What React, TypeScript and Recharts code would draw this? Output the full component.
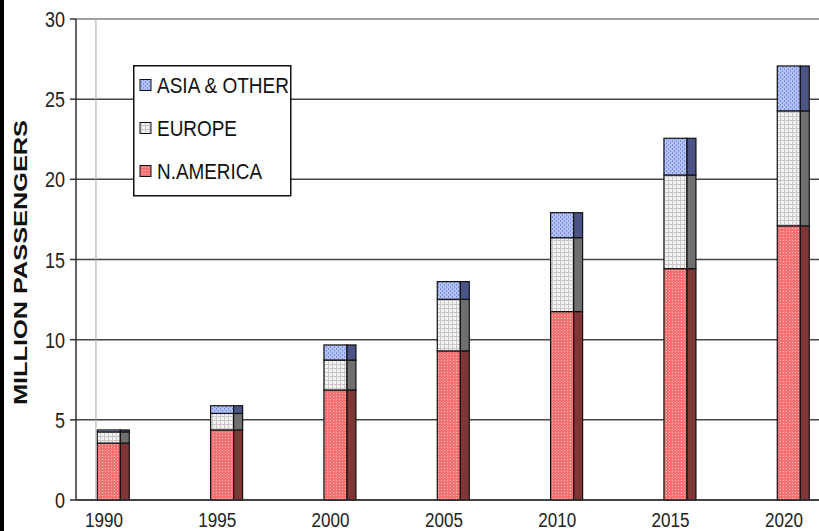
import React from 'react';
import { BarChart, Bar, XAxis, YAxis, CartesianGrid, ReferenceLine, Legend } from 'recharts';

const years = [1990, 1995, 2000, 2005, 2010, 2015, 2020];
const nAmerica = [3.55, 4.37, 6.86, 9.3, 11.75, 14.43, 17.1];
const europe = [0.7, 1.03, 1.87, 3.22, 4.61, 5.84, 7.17];
const asiaOther = [0.12, 0.48, 0.94, 1.1, 1.56, 2.29, 2.8];
const yTicks = [0, 5, 10, 15, 20, 25, 30];

const seriesNames = { na: 'N.AMERICA', eu: 'EUROPE', asia: 'ASIA & OTHER' };

const data = years.map((year, i) => ({
  year,
  na: nAmerica[i],
  eu: europe[i],
  asia: asiaOther[i],
}));

const FONT = '"Liberation Sans", Arial, sans-serif';

const sideColors: Record<string, string> = {
  na: '#7e3636',
  eu: '#6f6f6f',
  asia: '#4a5585',
};
const frontFills: Record<string, string> = {
  na: 'url(#patRed)',
  eu: 'url(#patGrey)',
  asia: 'url(#patBlue)',
};

const makeShape = (key: string) => (props: any) => {
  const { x, y, width, height } = props;
  if (height == null || width == null) return null;
  const front = width * 0.72;
  return (
    <g>
      <rect x={x} y={y} width={front} height={height} fill={frontFills[key]} stroke="#111" strokeWidth={1.2} />
      <rect x={x + front} y={y} width={width - front} height={height} fill={sideColors[key]} stroke="#111" strokeWidth={1.2} />
    </g>
  );
};

const XTick = (props: any) => {
  const { x, y, payload } = props;
  return (
    <text
      x={x - 9}
      y={y + 26.5}
      textAnchor="middle"
      fontFamily={FONT}
      fontSize={20.5}
      fill="#222"
      textLength={38}
      lengthAdjust="spacingAndGlyphs"
    >
      {payload.value}
    </text>
  );
};

const YTick = (props: any) => {
  const { x, y, payload } = props;
  const s = String(payload.value);
  return (
    <text
      x={x}
      y={y + 8}
      textAnchor="end"
      fontFamily={FONT}
      fontSize={22}
      fill="#222"
      textLength={s.length * 10}
      lengthAdjust="spacingAndGlyphs"
    >
      {s}
    </text>
  );
};

const YLabel = (props: any) => {
  const vb = props.viewBox || { x: 0, y: 19, width: 76, height: 481 };
  const cx = vb.x + 20;
  const cy = vb.y + vb.height / 2 + 3;
  return (
    <text
      x={cx}
      y={cy}
      transform={`rotate(-90 ${cx} ${cy})`}
      textAnchor="middle"
      dominantBaseline="central"
      fontFamily={FONT}
      fontWeight="bold"
      fontSize={19}
      fill="#111"
      textLength={285}
      lengthAdjust="spacingAndGlyphs"
    >
      MILLION   PASSENGERS
    </text>
  );
};

const legendRows = [
  { key: 'asia', y: 20, len: 132 },
  { key: 'eu', y: 63, len: 80 },
  { key: 'na', y: 106, len: 105 },
];

const LegendBox = () => (
  <svg width={166} height={132} style={{ display: 'block', overflow: 'visible' }}>
    <rect x={0.75} y={0.75} width={157} height={130} fill="#fff" stroke="#111" strokeWidth={1.5} />
    {legendRows.map((r) => (
      <g key={r.key}>
        <rect x={7} y={r.y - 5.5} width={11} height={11} fill={frontFills[r.key]} stroke="#111" strokeWidth={1} />
        <text
          x={24}
          y={r.y + 8}
          fontFamily={FONT}
          fontSize={22}
          fill="#111"
          textLength={r.len}
          lengthAdjust="spacingAndGlyphs"
        >
          {seriesNames[r.key as keyof typeof seriesNames]}
        </text>
      </g>
    ))}
  </svg>
);

export default function App() {
  return (
    <div style={{ position: 'absolute', left: 0, top: 0, width: 819, height: 531, background: '#fff' }}>
      <div style={{ position: 'absolute', left: 0, top: 0, width: 4, height: 531, background: '#000' }} />
      <BarChart
        width={819}
        height={531}
        data={data}
        margin={{ top: 19, right: 0, bottom: 0, left: 0 }}
        barSize={32}
      >
        <defs>
          <pattern id="patRed" width="3" height="3" patternUnits="userSpaceOnUse">
            <rect width="3" height="3" fill="#f47272" />
            <rect width="1" height="1" fill="#ffbcbc" />
          </pattern>
          <pattern id="patGrey" width="4" height="4" patternUnits="userSpaceOnUse">
            <rect width="4" height="4" fill="#f2f2f2" />
            <rect width="4" height="1" fill="#c8c8c8" />
            <rect width="1" height="4" fill="#c8c8c8" />
          </pattern>
          <pattern id="patBlue" width="4" height="4" patternUnits="userSpaceOnUse">
            <rect width="4" height="4" fill="#b3c2f5" />
            <rect x="0" y="0" width="1" height="2" fill="#7f90e0" />
            <rect x="2" y="2" width="1" height="2" fill="#7f90e0" />
          </pattern>
        </defs>
        <CartesianGrid horizontal vertical={false} stroke="#444" strokeWidth={1.5} />
        <ReferenceLine y={30} stroke="#a0a0a0" strokeWidth={2} />
        <ReferenceLine x={1989.25} stroke="#a8a8a8" strokeWidth={1} />
        <XAxis
          dataKey="year"
          type="number"
          domain={[1988.37, 2021.15]}
          ticks={years}
          height={31}
          axisLine={{ stroke: '#333', strokeWidth: 1.5 }}
          tickLine={false}
          tickSize={0}
          tickMargin={0}
          tick={<XTick />}
          allowDataOverflow
        />
        <YAxis
          type="number"
          domain={[0, 30]}
          ticks={yTicks}
          width={76}
          axisLine={{ stroke: '#333', strokeWidth: 1.5 }}
          tickLine={{ stroke: '#333', strokeWidth: 1.5 }}
          tickSize={6}
          tickMargin={5}
          tick={<YTick />}
          label={<YLabel />}
        />
        <Legend
          layout="vertical"
          align="center"
          verticalAlign="middle"
          content={() => <LegendBox />}
          wrapperStyle={{ position: 'absolute', left: 133, top: 65, width: 166, height: 132 }}
        />
        <Bar dataKey="na" name={seriesNames.na} stackId="a" isAnimationActive={false} shape={makeShape('na')} />
        <Bar dataKey="eu" name={seriesNames.eu} stackId="a" isAnimationActive={false} shape={makeShape('eu')} />
        <Bar dataKey="asia" name={seriesNames.asia} stackId="a" isAnimationActive={false} shape={makeShape('asia')} />
      </BarChart>
    </div>
  );
}
